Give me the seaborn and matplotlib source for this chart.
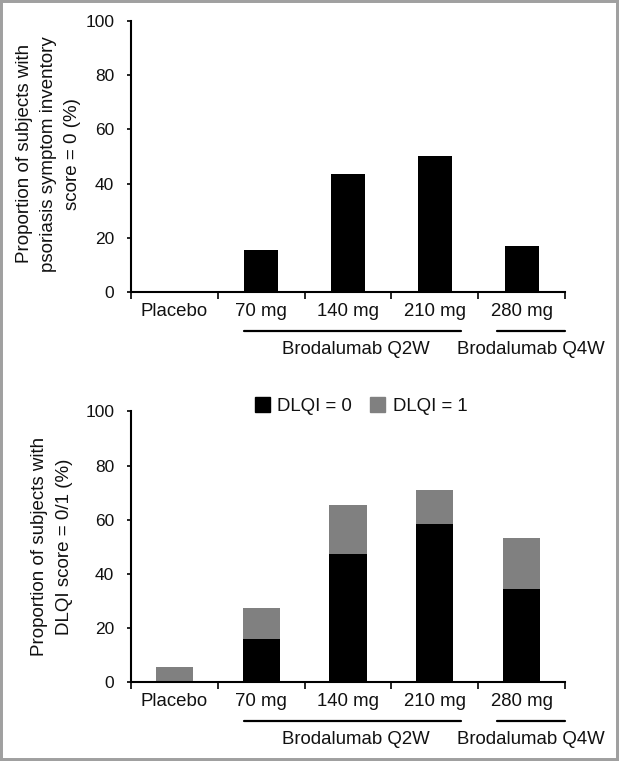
import matplotlib
matplotlib.use("Agg")
import matplotlib.pyplot as plt
import seaborn as sns
import pandas as pd
from matplotlib.patches import Rectangle

categories = ["Placebo", "70 mg", "140 mg", "210 mg", "280 mg"]
psi_zero = [0.0, 15.5, 43.5, 50.0, 17.0]
dlqi_zero = [0.0, 16.0, 47.4, 58.3, 34.4]
dlqi_one = [5.5, 11.3, 18.2, 12.8, 18.9]
yticks = [0, 20, 40, 60, 80, 100]
group_labels = ["Brodalumab Q2W", "Brodalumab Q4W"]
legend_labels = ["DLQI = 0", "DLQI = 1"]

sns.set_theme(style="white")
plt.rcParams["font.family"] = ["Liberation Sans", "DejaVu Sans"]
plt.rcParams["font.size"] = 12

GREY = "#808080"
TXT = "#111111"
FS = 13.4

fig = plt.figure(figsize=(6.19, 7.61), dpi=100)
ax1 = fig.add_axes([0.2116, 0.6163, 0.7012, 0.3561])
ax2 = fig.add_axes([0.2116, 0.1038, 0.7012, 0.3555])

df1 = pd.DataFrame({"cat": categories, "val": psi_zero})
sns.barplot(data=df1, x="cat", y="val", color="black", width=0.39,
            linewidth=0, saturation=1, ax=ax1)

df2 = pd.DataFrame({"cat": categories, "d0": dlqi_zero, "d1": dlqi_one})
df2["total"] = df2["d0"] + df2["d1"]
sns.barplot(data=df2, x="cat", y="total", color=GREY, width=0.43,
            linewidth=0, saturation=1, ax=ax2)
sns.barplot(data=df2, x="cat", y="d0", color="black", width=0.43,
            linewidth=0, saturation=1, ax=ax2)

for ax in (ax1, ax2):
    ax.set_xlim(-0.5, len(categories) - 0.5)
    ax.set_ylim(0, 100)
    ax.set_yticks(yticks)
    ax.set_yticklabels([str(t) for t in yticks], color=TXT, fontsize=12.5)
    ax.set_xticks(range(len(categories)))
    ax.set_xticklabels(categories, color=TXT, fontsize=FS)
    ax.set_xticks([i - 0.5 for i in range(len(categories) + 1)], minor=True)
    ax.tick_params(axis="x", which="major", length=0, pad=8)
    ax.tick_params(axis="x", which="minor", length=5, width=1.2, color="black", direction="out", bottom=True)
    ax.tick_params(axis="y", which="major", length=3, width=1.2, color="black", direction="out", left=True, pad=9)
    ax.set_xlabel("")
    for s in ("top", "right"):
        ax.spines[s].set_visible(False)
    for s in ("left", "bottom"):
        ax.spines[s].set_color("black")
        ax.spines[s].set_linewidth(1.5)
    tr = ax.get_xaxis_transform()
    ax.plot([0.80, 3.30], [-0.144, -0.144], transform=tr, color="black", lw=1.6, clip_on=False)
    ax.plot([3.72, 4.5], [-0.144, -0.144], transform=tr, color="black", lw=1.6, clip_on=False)
    ax.text(2.09, -0.213, group_labels[0], transform=tr, ha="center", va="center", fontsize=FS, color=TXT)
    ax.text(4.11, -0.213, group_labels[1], transform=tr, ha="center", va="center", fontsize=FS, color=TXT)

ax1.set_ylabel("Proportion of subjects with\npsoriasis symptom inventory\nscore = 0 (%)",
               fontsize=13.5, color=TXT, linespacing=1.55)
ax1.yaxis.set_label_coords(-0.115, 0.51)
ax2.set_ylabel("Proportion of subjects with\nDLQI score = 0/1 (%)",
               fontsize=13.5, color=TXT, linespacing=1.6)
ax2.yaxis.set_label_coords(-0.134, 0.5)

handles = [Rectangle((0, 0), 1, 1, color="black"), Rectangle((0, 0), 1, 1, color=GREY)]
ax2.legend(handles, legend_labels, ncol=2, frameon=False, loc="center",
           bbox_to_anchor=(0.53, 1.02), handlelength=0.8, handleheight=0.8,
           handletextpad=0.4, columnspacing=1.0, fontsize=FS, labelcolor=TXT)

fig.patches.append(Rectangle((0, 0), 1, 1, transform=fig.transFigure, fill=False,
                             edgecolor="#a0a0a0", linewidth=4.3, zorder=10))

fig.savefig("out.png", dpi=100)
